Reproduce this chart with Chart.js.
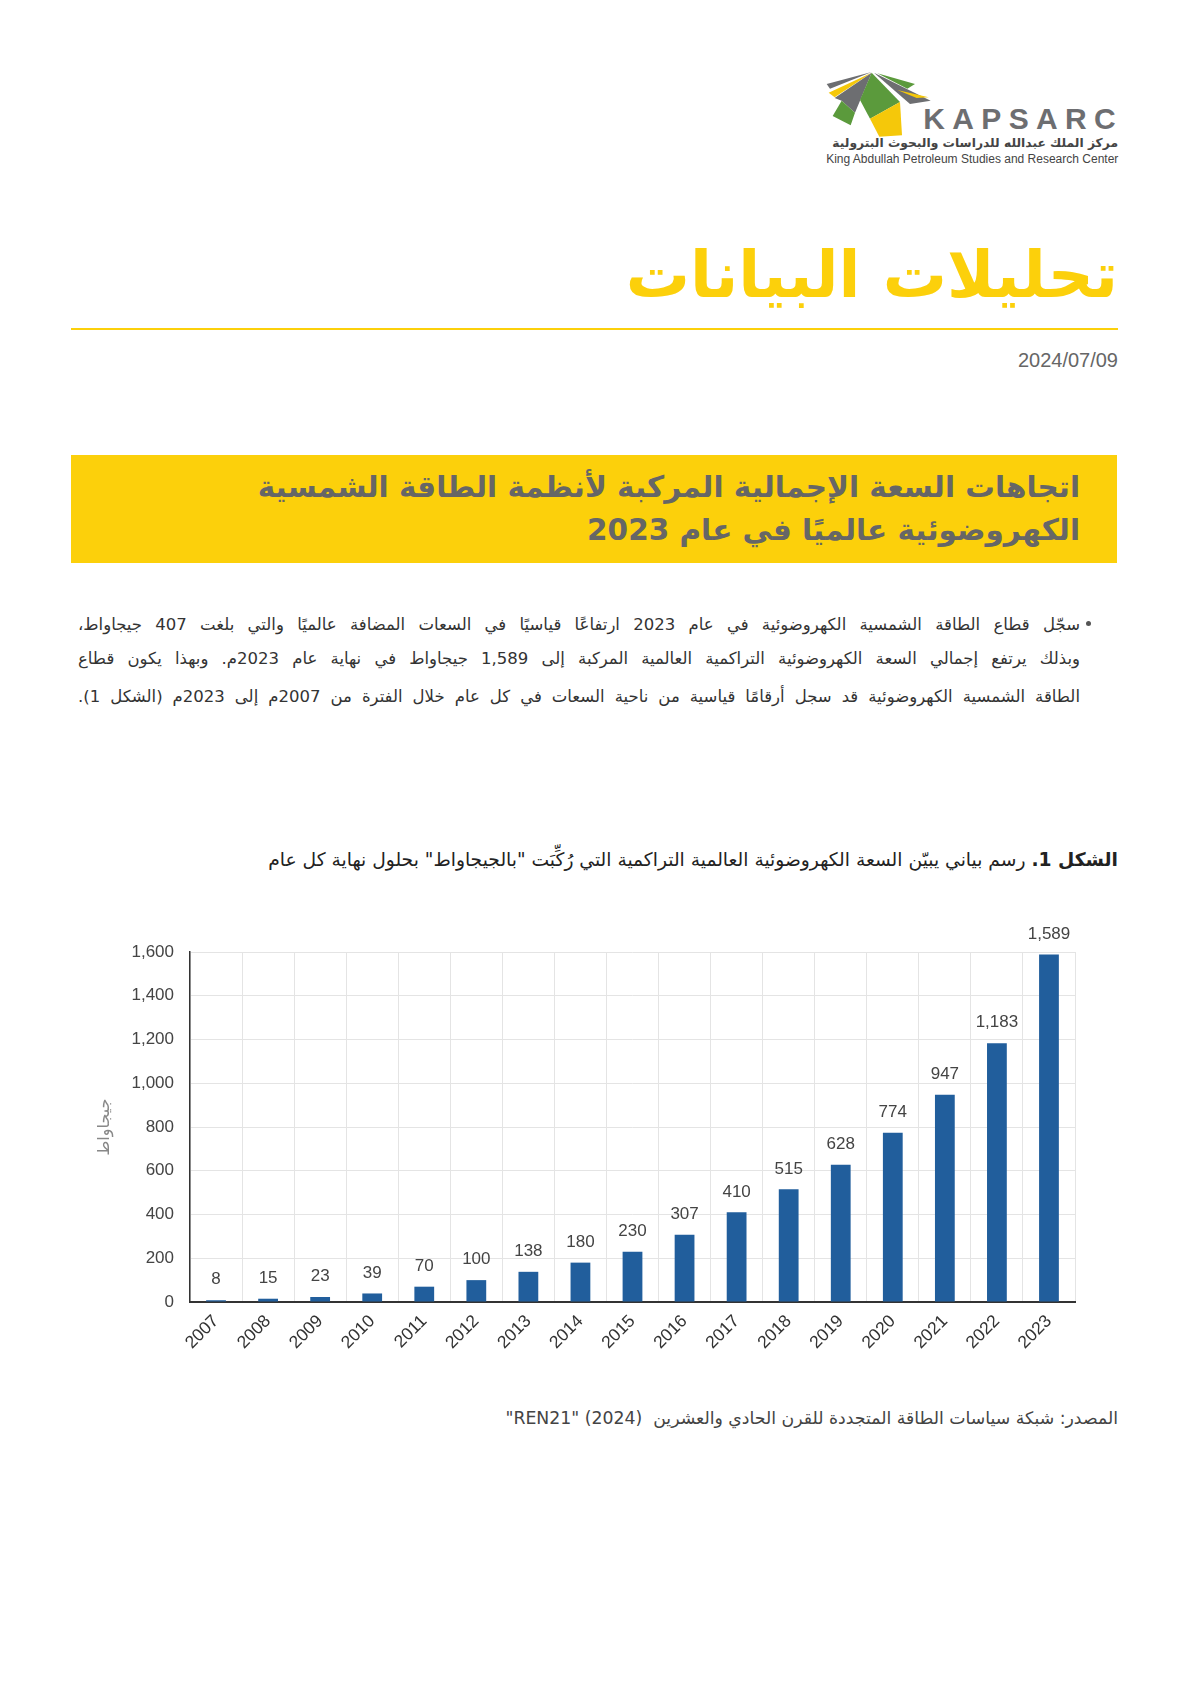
<!DOCTYPE html>
<html lang="ar">
<head>
<meta charset="utf-8">
<title>تحليلات البيانات</title>
<script src="https://cdn.jsdelivr.net/npm/chart.js@4.4.1/dist/chart.umd.min.js"></script>
<style>
  body { margin: 0; background: #fff; width: 1191px; height: 1684px; position: relative; overflow: hidden; font-family: "DejaVu Sans", "Noto Sans", sans-serif; }
  .abs { position: absolute; }
  #logoAr { right: 73px; top: 136px; font-size: 12.3px; font-weight: bold; color: #444; direction: rtl; white-space: nowrap; }
  #titre { right: 73px; top: 238px; font-size: 64px; font-weight: bold; color: #fcd00b; direction: rtl; white-space: nowrap; }
  #ligne { left: 71px; top: 328px; width: 1047px; height: 2px; background: #fcd00b; }
  #date { right: 73px; top: 349px; font-family: "Liberation Sans", Arial, sans-serif; font-size: 20px; color: #666; }
  #encadre { left: 71px; top: 455px; width: 1046px; height: 108px; background: #fcd00b; }
  .bt { right: 111px; font-size: 29.5px; font-weight: bold; color: #666; direction: rtl; white-space: nowrap; }
  .para { right: 111px; width: 1002px; font-size: 16.5px; color: #333; direction: rtl; text-align: justify; text-align-last: justify; white-space: nowrap; }
  #puce { left: 1086px; top: 621px; width: 5px; height: 5px; border-radius: 50%; background: #555; }
  #legende { right: 73px; top: 849px; font-size: 18.7px; color: #222; direction: rtl; white-space: nowrap; }
  #source { right: 73px; top: 1408px; font-size: 17.3px; color: #444; direction: rtl; white-space: nowrap; }
  #graph { left: 70px; top: 900px; }
</style>
</head>
<body>

<!-- logo -->
<svg class="abs" style="left:800px;top:60px" width="330" height="110" viewBox="0 0 990 330">
  <polygon points="80,72 215,36 90,86" fill="#6d6e71"/>
  <polygon points="86,98 215,38 104,112" fill="#f5c80a"/>
  <polygon points="104,114 215,38 165,158 125,122" fill="#6d6e71"/>
  <polygon points="125,122 165,158 152,196 98,168" fill="#5b9a3c"/>
  <polygon points="215,38 300,126 210,176 180,120" fill="#5b9a3c"/>
  <polygon points="210,176 300,126 306,226 238,230" fill="#f5c80a"/>
  <polygon points="222,38 392,122 330,132" fill="#6d6e71"/>
  <polygon points="232,40 345,72 322,86" fill="#5b9a3c"/>
  <polygon points="292,90 386,112 350,114" fill="#f5c80a"/>
  <text x="370" y="207" font-family="Liberation Sans, Arial" font-size="90" font-weight="bold" fill="#6d6e71" letter-spacing="22">KAPSARC</text>
  <text x="955" y="308" text-anchor="end" font-family="Liberation Sans, Arial" font-size="36" fill="#444">King Abdullah Petroleum Studies and Research Center</text>
</svg>
<div id="logoAr" class="abs">مركز الملك عبدالله للدراسات والبحوث البترولية</div>

<div id="titre" class="abs">تحليلات البيانات</div>
<div id="ligne" class="abs"></div>
<div id="date" class="abs">2024/07/09</div>

<div id="encadre" class="abs"></div>
<div class="abs bt" style="top:470px">اتجاهات السعة الإجمالية المركبة لأنظمة الطاقة الشمسية</div>
<div class="abs bt" style="top:513px">الكهروضوئية عالميًا في عام 2023</div>

<div id="puce" class="abs"></div>
<div class="abs para" style="top:615px">سجّل قطاع الطاقة الشمسية الكهروضوئية في عام 2023 ارتفاعًا قياسيًا في السعات المضافة عالميًا والتي بلغت 407 جيجاواط،</div>
<div class="abs para" style="top:649px">وبذلك يرتفع إجمالي السعة الكهروضوئية التراكمية العالمية المركبة إلى 1,589 جيجاواط في نهاية عام 2023م. وبهذا يكون قطاع</div>
<div class="abs para" style="top:687px">الطاقة الشمسية الكهروضوئية قد سجل أرقامًا قياسية من ناحية السعات في كل عام خلال الفترة من 2007م إلى 2023م (الشكل 1).</div>

<div id="legende" class="abs"><b>الشكل 1.</b> رسم بياني يبيّن السعة الكهروضوئية العالمية التراكمية التي رُكِّبَت "بالجيجاواط" بحلول نهاية كل عام</div>

<canvas id="graph" class="abs" width="1020" height="470"></canvas>

<div id="source" class="abs">المصدر: شبكة سياسات الطاقة المتجددة للقرن الحادي والعشرين &nbsp;(2024) "REN21"</div>

<script>
// données du graphique
const annees = ['2007', '2008', '2009', '2010', '2011', '2012', '2013', '2014', '2015',
                '2016', '2017', '2018', '2019', '2020', '2021', '2022', '2023'];
const capacite = [8, 15, 23, 39, 70, 100, 138, 180, 230, 307, 410, 515, 628, 774, 947, 1183, 1589];
const titreY = 'جيجاواط';
const yMin = 0;
const yMax = 1600;
const yPas = 200;

// étiquettes au-dessus des barres
const etiquettes = {
  id: 'etiquettes',
  afterDatasetsDraw(chart) {
    const ctx = chart.ctx;
    ctx.save();
    ctx.font = '17px "Liberation Sans", Arial, sans-serif';
    ctx.fillStyle = '#444';
    ctx.textAlign = 'center';
    ctx.textBaseline = 'bottom';
    chart.getDatasetMeta(0).data.forEach((bar, i) => {
      ctx.fillText(capacite[i].toLocaleString('en-US'), bar.x, bar.y - 12);
    });
    ctx.restore();
  }
};

new Chart(document.getElementById('graph'), {
  type: 'bar',
  data: {
    labels: annees,
    datasets: [{
      data: capacite,
      backgroundColor: '#215e9c',
      barPercentage: 0.38,
      categoryPercentage: 1
    }]
  },
  options: {
    responsive: false,
    devicePixelRatio: 1,
    animation: false,
    locale: 'en-US',
    layout: { padding: { top: 52, right: 15, left: 0, bottom: 0 } },
    plugins: {
      legend: { display: false },
      tooltip: { enabled: false }
    },
    scales: {
      y: {
        min: yMin,
        max: yMax,
        afterFit: (axis) => { axis.width = 120; },
        ticks: {
          stepSize: yPas,
          padding: 16,
          color: '#444',
          font: { family: '"Liberation Sans", Arial, sans-serif', size: 17 }
        },
        grid: { color: '#e4e4e4', drawTicks: false },
        border: { color: '#333', width: 1.5 },
        title: {
          display: true,
          text: titreY,
          color: '#888',
          padding: { top: 25, bottom: 0 },
          font: { family: '"DejaVu Sans", sans-serif', size: 16 }
        }
      },
      x: {
        afterFit: (axis) => { axis.height = 68; },
        ticks: {
          minRotation: 45,
          maxRotation: 45,
          padding: 9,
          color: '#333',
          font: { family: '"Liberation Sans", Arial, sans-serif', size: 17.5 }
        },
        grid: { color: '#e4e4e4', drawTicks: false },
        border: { color: '#333', width: 2 }
      }
    }
  },
  plugins: [etiquettes]
});
</script>
</body>
</html>
